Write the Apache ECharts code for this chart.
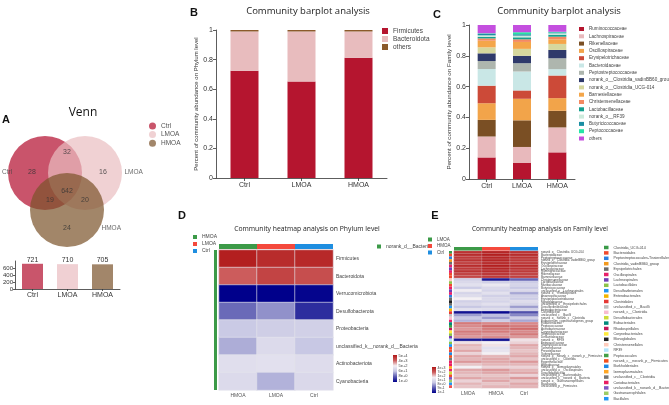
<!DOCTYPE html>
<html><head><meta charset="utf-8">
<script src="https://cdn.jsdelivr.net/npm/echarts@6.0.0/dist/echarts.min.js"></script>
<style>html,body{margin:0;padding:0;background:#fff;}#chart{width:669px;height:405px;}</style>
</head><body><div id="chart"></div>
<script>
// ================= DATA =================
const groups = ['Ctrl', 'LMOA', 'HMOA'];
const vennCounts = [28, 32, 16, 642, 19, 20, 24];
const otuTotals = [721, 710, 705];

const phyla = ['Firmicutes', 'Bacteroidota', 'others'];
const phylumFirmicutes = [0.724, 0.652, 0.813];
const phylumBacteroidota = [0.266, 0.338, 0.177];
const phylumOthers = [0.010, 0.010, 0.010];

const families = ['Ruminococcaceae', 'Lachnospiraceae', 'Rikenellaceae', 'Oscillospiraceae',
  'Erysipelotrichaceae', 'Bacteroidaceae', 'Peptostreptococcaceae',
  'norank_o__Clostridia_vadinBB60_group', 'norank_o__Clostridia_UCG-014', 'Barnesiellaceae',
  'Christensenellaceae', 'Lactobacillaceae', 'norank_o__RF39', 'Butyricicoccaceae',
  'Peptococcaceae', 'others'];
const familyCtrl = [0.140, 0.136, 0.108, 0.108, 0.114, 0.108, 0.052, 0.050, 0.039, 0.043, 0.015, 0.010, 0.010, 0.009, 0.004, 0.054];
const familyLMOA = [0.104, 0.104, 0.173, 0.140, 0.054, 0.123, 0.054, 0.048, 0.045, 0.045, 0.017, 0.013, 0.011, 0.009, 0.013, 0.047];
const familyHMOA = [0.173, 0.162, 0.108, 0.082, 0.147, 0.041, 0.071, 0.054, 0.039, 0.030, 0.017, 0.013, 0.009, 0.006, 0.004, 0.044];

const phylumHeatRows = ['Firmicutes', 'Bacteroidota', 'Verrucomicrobiota', 'Desulfobacterota',
  'Proteobacteria', 'unclassified_k__norank_d__Bacteria', 'Actinobacteriota', 'Cyanobacteria'];
const phylumHeatCols = ['HMOA', 'LMOA', 'Ctrl'];
const phylumHeatHMOA = [4.90, 4.00, 0.00, 1.15, 2.05, 1.75, 2.55, 2.45];
const phylumHeatLMOA = [4.70, 4.35, 0.00, 1.50, 2.15, 2.45, 2.60, 1.80];
const phylumHeatCtrl = [4.75, 4.20, 0.05, 0.50, 2.20, 2.00, 2.50, 2.40];
const phylumScaleLabels = ['5e+4', '4e+3', '5e+2', '6e+1', '8e+0', '1e+0'];

const familyHeatRows = ['norank_o__Clostridia_UCG-014', 'Bacteroidaceae', 'Peptostreptococcaceae',
  'norank_o__Clostridia_vadinBB60_group', 'Erysipelotrichaceae', 'Oscillospiraceae', 'Lachnospiraceae',
  'Ruminococcaceae', 'Rikenellaceae', 'Barnesiellaceae', 'Christensenellaceae', 'Lactobacillaceae',
  'Muribaculaceae', 'Butyricicoccaceae', 'unclassified_o__Lachnospirales', 'norank_o__Oscillospirales',
  'Anaerovoracaceae', 'Erysipelatoclostridiaceae', 'Monoglobaceae', 'unclassified_o__Erysipelotrichales',
  'Desulfovibrionaceae', 'Enterobacteriaceae', 'Clostridiaceae', 'unclassified_c__Bacilli',
  'norank_o__norank_c__Clostridia', 'Eubacterium_coprostanoligenes_group', 'Eubacteriaceae',
  'Peptococcaceae', 'Acetobacteraceae', 'Corynebacteriaceae', 'Streptococcaceae', 'Defluviitaleaceae',
  'norank_o__RF39', 'Enterococcaceae', 'Staphylococcaceae', 'Tannerellaceae', 'Prevotellaceae',
  'Sutterellaceae', 'norank_o__norank_c__norank_p__Firmicutes', 'unclassified_c__Clostridia',
  'Eggerthellaceae', 'Atopobiaceae', 'norank_o__Izemoplasmatales', 'unclassified_o__Oscillospirales',
  'Desulfobulbaceae', 'unclassified_o__Bacteroidales', 'unclassified_k__norank_d__Bacteria',
  'norank_o__Gastranaerophilales', 'Bacillaceae', 'unclassified_p__Firmicutes'];
const familyHeatCols = ['LMOA', 'HMOA', 'Ctrl'];
const familyHeatLMOA = [4.6, 4.7, 4.5, 4.6, 4.4, 4.7, 4.5, 4.6, 4.4, 4.3, 2.2, 2.4, 2.6, 2.1, 2.9, 2.3, 2.5, 3.0, 2.2, 2.4,
  2.0, 2.6, 0.2, 1.6, 2.0, 1.8, 3.8, 3.7, 3.6, 3.8, 3.7, 3.6, 0.3, 3.1, 3.4, 3.3, 3.5, 3.2, 3.5, 3.4,
  3.6, 3.3, 3.0, 3.5, 3.4, 3.3, 3.5, 3.2, 3.4, 3.3];
const familyHeatHMOA = [4.8, 4.9, 4.8, 4.8, 4.7, 4.9, 4.8, 4.7, 4.6, 4.5, 0.3, 2.2, 2.8, 2.4, 2.3, 2.6, 2.2, 2.4, 2.3, 2.6,
  2.2, 2.5, 0.1, 1.9, 1.6, 2.1, 3.7, 3.9, 3.8, 3.8, 3.6, 3.7, 0.2, 3.0, 3.1, 2.6, 2.7, 3.0, 3.4, 3.5,
  3.5, 3.4, 3.2, 3.6, 3.5, 3.3, 3.4, 3.5, 3.3, 3.4];
const familyHeatCtrl = [4.6, 4.7, 4.6, 4.5, 4.5, 4.7, 4.6, 4.5, 4.4, 4.4, 1.1, 2.1, 2.3, 2.0, 2.4, 1.7, 2.2, 2.1, 2.5, 2.3,
  1.6, 2.2, 0.9, 1.4, 2.2, 1.7, 3.7, 3.8, 3.9, 3.7, 3.8, 3.6, 3.1, 3.2, 3.5, 3.4, 3.3, 3.4, 3.5, 3.3,
  3.6, 3.4, 3.2, 3.4, 3.5, 3.2, 3.6, 3.3, 3.5, 3.4];
const orders = ['Clostridia_UCG-014', 'Bacteroidales', 'Peptostreptococcales-Tissierellales',
  'Clostridia_vadinBB60_group', 'Erysipelotrichales', 'Oscillospirales', 'Lachnospirales',
  'Lactobacillales', 'Desulfovibrionales', 'Enterobacterales', 'Clostridiales', 'unclassified_c__Bacilli',
  'norank_c__Clostridia', 'Desulfobacterales', 'Eubacteriales', 'Rhodospirillales', 'Corynebacteriales',
  'Monoglobales', 'Christensenellales', 'RF39', 'Peptococcales', 'norank_c__norank_p__Firmicutes',
  'Burkholderiales', 'Izemoplasmatales', 'unclassified_c__Clostridia', 'Coriobacteriales',
  'unclassified_k__norank_d__Bacteria', 'Gastranaerophilales', 'Bacillales', 'unclassified_p__Firmicutes'];
const familyRowOrder = [0, 1, 2, 3, 4, 5, 6, 5, 1, 1, 18, 7, 1, 5, 6, 5, 2, 4, 17, 4,
  8, 9, 10, 11, 12, 5, 14, 20, 15, 16, 7, 6, 19, 7, 28, 1, 1, 22, 21, 24,
  25, 25, 23, 5, 13, 1, 26, 27, 28, 29];
const familyScaleLabels = ['4e+3', '7e+2', '1e+2', '1e+1', '8e+0', '9e-1', '1e-1'];

// ================= STYLE / LAYOUT =================
const FONT = 'Liberation Sans, Arial, sans-serif';
const TITLE_FONT = 'Open Sans, sans-serif';
const AX = '#333';
const VENN = {
  diameter: 74,
  fill: {Ctrl: '#b20c2c', LMOA: '#eabdc0', HMOA: '#7a522a'},
  legendFill: {Ctrl: '#c9556b', LMOA: '#f0d1d3', HMOA: '#a2866a'},
  centers: {Ctrl: [-1, 0], LMOA: [1, 0], HMOA: [0.1, -1.85]},
  countPos: [[-1.65, 0.05], [0.1, 1.05], [1.9, 0.05], [0.1, -0.9], [-0.75, -1.35], [1.0, -1.35], [0.1, -2.75]],
  namePos: {Ctrl: [[-2.62, 0.05], 'left'], LMOA: [[2.95, 0.05], 'right'], HMOA: [[1.8, -2.75], 'right']}
};
const OTU_COLORS = ['#c9556b', '#f0d0d3', '#a2866a'];
const PHYLUM_COLORS = ['#b5152f', '#e8bcbe', '#8b5a2b'];
const FAMILY_COLORS = ['#b5152f', '#e8b9bc', '#7a4f24', '#f2a44a', '#cc4a38', '#c9e7e6', '#aeb6ae', '#2f3a6b',
  '#d6d79e', '#f4a64a', '#f48a62', '#15a08f', '#cdebdc', '#1b8ea3', '#25e5a6', '#c44fdf'];
const D_GROUP_COLORS = ['#3c9a48', '#f4493c', '#1f8ee0'];
const E_GROUP_COLORS = ['#3c9a48', '#f4493c', '#1f8ee0'];
const ORDER_PALETTE = ['#3a9a48', '#f04a2e', '#2b7fe0', '#f39a1e', '#6b6b6b', '#e8206a', '#6f3fb5', '#8cc24a',
  '#2196f3', '#f2b400', '#e53935', '#bdbdbd', '#f8bbd0', '#cddc39', '#00897b', '#c2185b', '#ffeb3b', '#212121',
  '#ffccbc', '#b3e5fc', '#43a047', '#f4511e', '#1e88e5', '#ffa726', '#757575', '#e91e63', '#7e57c2', '#9ccc65',
  '#2196f3', '#ef5350'];
const HEAT_COLORS = ['#00008b', '#5a5ab0', '#c8c8e4', '#f4f0f4', '#cc5c5c', '#b01818'];

// ================= BUILD =================
const chart = echarts.init(document.getElementById('chart'), null, {renderer: 'canvas', width: 669, height: 405});

const grids = [
  {left: 0, top: 133, width: 130, height: 110},     // 0 venn
  {left: 12, top: 261, width: 108, height: 28},     // 1 otu bars
  {left: 216, top: 30, width: 171, height: 148},    // 2 phylum bars
  {left: 469, top: 25, width: 106, height: 154},    // 3 family bars
  {left: 219, top: 250, width: 114, height: 140},   // 4 phylum heat
  {left: 219, top: 244, width: 114, height: 5},     // 5 phylum group bar
  {left: 214, top: 250, width: 3, height: 140},     // 6 phylum side bar
  {left: 454, top: 251, width: 84, height: 137},    // 7 family heat
  {left: 454, top: 247, width: 84, height: 3.5},    // 8 family group bar
  {left: 449, top: 251, width: 3, height: 137}      // 9 family side bar
];

const hidden = {show: false};
const axLine = {show: true, lineStyle: {color: AX, width: 0.8}};
const axTick = {show: true, length: 3, lineStyle: {color: AX, width: 0.8}};

const xAxes = [
  {gridIndex: 0, type: 'value', min: -3.25, max: 3.25, show: false},
  {gridIndex: 1, type: 'category', data: groups, axisLine: axLine, axisTick: Object.assign({alignWithLabel: true}, axTick, {length: 2}),
    axisLabel: {fontSize: 7, color: '#333', margin: 3, fontFamily: FONT}},
  {gridIndex: 2, type: 'category', data: groups, axisLine: axLine, axisTick: Object.assign({alignWithLabel: true}, axTick),
    axisLabel: {fontSize: 7, color: '#333', margin: 4, fontFamily: FONT}},
  {gridIndex: 3, type: 'category', data: groups, axisLine: axLine, axisTick: Object.assign({alignWithLabel: true}, axTick),
    axisLabel: {fontSize: 7, color: '#333', margin: 4, fontFamily: FONT}},
  {gridIndex: 4, type: 'category', data: phylumHeatCols, axisLine: hidden, axisTick: hidden, splitLine: hidden,
    axisLabel: {fontSize: 5, color: '#555', margin: 3, fontFamily: FONT}},
  {gridIndex: 5, type: 'category', data: phylumHeatCols, show: false},
  {gridIndex: 6, type: 'value', min: 0, max: 1, show: false},
  {gridIndex: 7, type: 'category', data: familyHeatCols, axisLine: hidden, axisTick: hidden, splitLine: hidden,
    axisLabel: {fontSize: 5, color: '#555', margin: 3, fontFamily: FONT}},
  {gridIndex: 8, type: 'category', data: familyHeatCols, show: false},
  {gridIndex: 9, type: 'value', min: 0, max: 1, show: false}
];
const yAxes = [
  {gridIndex: 0, type: 'value', min: -3.5, max: 2, show: false},
  {gridIndex: 1, type: 'value', min: 0, max: 800, interval: 200, axisLine: axLine, axisTick: Object.assign({}, axTick, {length: 2}),
    splitLine: hidden, axisLabel: {fontSize: 6, color: '#333', margin: 2, showMaxLabel: false, fontFamily: FONT}},
  {gridIndex: 2, type: 'value', min: 0, max: 1, interval: 0.2, axisLine: axLine, axisTick: axTick, splitLine: hidden,
    axisLabel: {fontSize: 7, color: '#333', margin: 3, fontFamily: FONT},
    name: 'Percent of community abundance on Phylum level', nameLocation: 'middle', nameRotate: 90, nameGap: 17,
    nameTextStyle: {fontSize: 6, color: '#333', fontFamily: FONT}},
  {gridIndex: 3, type: 'value', min: 0, max: 1, interval: 0.2, axisLine: axLine, axisTick: axTick, splitLine: hidden,
    axisLabel: {fontSize: 7, color: '#333', margin: 3, fontFamily: FONT},
    name: 'Percent of community abundance on Family level', nameLocation: 'middle', nameRotate: 90, nameGap: 15,
    nameTextStyle: {fontSize: 6.2, color: '#333', fontFamily: FONT}},
  {gridIndex: 4, type: 'category', data: phylumHeatRows, inverse: true, position: 'right', axisLine: hidden, axisTick: hidden,
    splitLine: hidden, axisLabel: {fontSize: 5, color: '#444', margin: 3, interval: 0, fontFamily: FONT}},
  {gridIndex: 5, type: 'value', min: 0, max: 1, show: false},
  {gridIndex: 6, type: 'category', data: ['norank_d__Bacteria'], show: false},
  {gridIndex: 7, type: 'category', data: familyHeatRows, inverse: true, position: 'right', axisLine: hidden, axisTick: hidden,
    splitLine: hidden, axisLabel: {fontSize: 3, color: '#444', margin: 3, interval: 0, fontFamily: FONT}},
  {gridIndex: 8, type: 'value', min: 0, max: 1, show: false},
  {gridIndex: 9, type: 'category', data: familyHeatRows, inverse: true, show: false}
];

const series = [];
// Venn circles
groups.forEach(g => {
  series.push({type: 'scatter', name: g, xAxisIndex: 0, yAxisIndex: 0, symbolSize: VENN.diameter, silent: true,
    data: [VENN.centers[g]], itemStyle: {color: VENN.fill[g], opacity: 0.7}});
});
// Venn region counts
series.push({type: 'scatter', xAxisIndex: 0, yAxisIndex: 0, symbolSize: 1, silent: true, z: 5,
  itemStyle: {color: 'rgba(0,0,0,0)'},
  data: vennCounts.map((v, i) => ({name: String(v), value: VENN.countPos[i]})),
  label: {show: true, position: 'inside', formatter: p => p.name, fontSize: 7, color: '#333', fontFamily: FONT}});
// Venn set names
series.push({type: 'scatter', xAxisIndex: 0, yAxisIndex: 0, symbolSize: 1, silent: true, z: 5,
  itemStyle: {color: 'rgba(0,0,0,0)'},
  data: groups.map(g => ({name: g, value: VENN.namePos[g][0], label: {position: VENN.namePos[g][1]}})),
  label: {show: true, distance: 0, formatter: p => p.name, fontSize: 6.5, color: '#444', fontFamily: FONT}});
// OTU totals
series.push({type: 'bar', xAxisIndex: 1, yAxisIndex: 1, barWidth: 21, silent: true,
  data: otuTotals.map((v, i) => ({value: v, itemStyle: {color: OTU_COLORS[i]}})),
  label: {show: true, position: 'top', distance: 0.5, fontSize: 7, color: '#333', fontFamily: FONT}});
// Phylum stacked bars
[phylumFirmicutes, phylumBacteroidota, phylumOthers].forEach((arr, i) => {
  series.push({type: 'bar', name: phyla[i], stack: 'phy', xAxisIndex: 2, yAxisIndex: 2, barWidth: 28,
    data: arr, itemStyle: {color: PHYLUM_COLORS[i]}});
});
// Family stacked bars
families.forEach((f, i) => {
  series.push({type: 'bar', name: f, stack: 'fam', xAxisIndex: 3, yAxisIndex: 3, barWidth: 18,
    data: [familyCtrl[i], familyLMOA[i], familyHMOA[i]], itemStyle: {color: FAMILY_COLORS[i]}});
});
// Phylum heatmap
const phyCols = [phylumHeatHMOA, phylumHeatLMOA, phylumHeatCtrl];
const phyData = [];
phylumHeatRows.forEach((r, ri) => phyCols.forEach((col, ci) => phyData.push([ci, ri, col[ri]])));
const phyHeatIndex = series.length;
series.push({type: 'heatmap', xAxisIndex: 4, yAxisIndex: 4, data: phyData,
  itemStyle: {borderColor: '#e4e4ec', borderWidth: 0.6}});
series.push({type: 'bar', xAxisIndex: 5, yAxisIndex: 5, barWidth: '100%', silent: true,
  data: phylumHeatCols.map((c, i) => ({value: 1, itemStyle: {color: D_GROUP_COLORS[i]}}))});
series.push({type: 'bar', name: 'norank_d__Bacteria', xAxisIndex: 6, yAxisIndex: 6, barWidth: '100%', silent: true,
  data: [1], itemStyle: {color: '#3c9a48'}});
// Family heatmap
const famCols = [familyHeatLMOA, familyHeatHMOA, familyHeatCtrl];
const famData = [];
familyHeatRows.forEach((r, ri) => famCols.forEach((col, ci) => famData.push([ci, ri, col[ri]])));
const famHeatIndex = series.length;
series.push({type: 'heatmap', xAxisIndex: 7, yAxisIndex: 7, data: famData,
  itemStyle: {borderColor: 'rgba(235,235,240,0.8)', borderWidth: 0.3}});
series.push({type: 'bar', xAxisIndex: 8, yAxisIndex: 8, barWidth: '100%', silent: true,
  data: familyHeatCols.map((c, i) => ({value: 1, itemStyle: {color: E_GROUP_COLORS[i]}}))});
orders.forEach((o, k) => {
  series.push({type: 'bar', name: o, stack: 'ord', xAxisIndex: 9, yAxisIndex: 9, barWidth: '100%', silent: true,
    data: familyRowOrder.map(idx => idx === k ? 1 : '-'), itemStyle: {color: ORDER_PALETTE[k]}});
});

// Legends
const lg = (o) => Object.assign({orient: 'vertical', padding: 0, selectedMode: false, icon: 'rect'}, o);
const legends = [
  lg({left: 149, top: 122.5, icon: 'circle', itemWidth: 7, itemHeight: 7, itemGap: 1.6,
    textStyle: {fontSize: 6.5, lineHeight: 7, color: '#555', fontFamily: FONT},
    data: groups.map(g => ({name: g, itemStyle: {color: VENN.legendFill[g], opacity: 1}}))}),
  lg({left: 382, top: 27.5, itemWidth: 6, itemHeight: 6, itemGap: 1,
    textStyle: {fontSize: 6.5, lineHeight: 6, color: '#444', fontFamily: FONT}, data: phyla}),
  lg({left: 579, top: 26.5, itemWidth: 5, itemHeight: 4, itemGap: 2.3,
    textStyle: {fontSize: 4.6, lineHeight: 4.5, color: '#444', fontFamily: FONT},
    data: families.map((f, i) => ({name: f, itemStyle: {color: FAMILY_COLORS[i]}}))}),
  lg({left: 193, top: 234.5, itemWidth: 4, itemHeight: 4, itemGap: 2,
    textStyle: {fontSize: 5, lineHeight: 5, color: '#444', fontFamily: FONT},
    data: phylumHeatCols.map((c, i) => ({name: c, itemStyle: {color: D_GROUP_COLORS[i], opacity: 1}}))}),
  lg({left: 377, top: 244, itemWidth: 4, itemHeight: 4,
    textStyle: {fontSize: 5, lineHeight: 5, color: '#444', fontFamily: FONT}, data: ['norank_d__Bacteria']}),
  lg({left: 428, top: 237, itemWidth: 4, itemHeight: 4, itemGap: 1.5,
    textStyle: {fontSize: 4.5, lineHeight: 4.5, color: '#444', fontFamily: FONT},
    data: familyHeatCols.map((c, i) => ({name: c, itemStyle: {color: E_GROUP_COLORS[i], opacity: 1}}))}),
  lg({left: 604, top: 245.5, itemWidth: 4.5, itemHeight: 3.5, itemGap: 1.4,
    textStyle: {fontSize: 3.6, lineHeight: 4, color: '#444', fontFamily: FONT}, data: orders})
];

// Graphics: panel letters, titles, colour scales
const txt = (text, x, y, font, align, fill) => ({type: 'text', x: x, y: y, silent: true,
  style: {text: text, font: font, fill: fill || '#111', align: align || 'center', textAlign: align || 'center',
    verticalAlign: 'middle', textVerticalAlign: 'middle'}});
const gradStops = HEAT_COLORS.slice().reverse().map((c, i, a) => ({offset: i / (a.length - 1), color: c}));
const scaleBar = (x, y, w, h, labels, fs) => {
  const els = [{type: 'rect', silent: true, shape: {x: x, y: y, width: w, height: h},
    style: {fill: new echarts.graphic.LinearGradient(0, 0, 0, 1, gradStops)}}];
  labels.forEach((l, i) => els.push(txt(l, x + w + 1.5, y + 1 + i * (h - 2) / (labels.length - 1),
    fs + 'px ' + FONT, 'left', '#444')));
  return els;
};
const graphics = [
  txt('A', 6, 120, 'bold 11px ' + FONT),
  txt('B', 194, 13, 'bold 11px ' + FONT),
  txt('C', 437, 15, 'bold 11px ' + FONT),
  txt('D', 182, 216, 'bold 11px ' + FONT),
  txt('E', 435, 216, 'bold 11px ' + FONT),
  txt('Venn', 83, 113, '12px ' + TITLE_FONT, 'center', '#111'),
  txt('Community barplot analysis', 308, 11, '9.5px ' + TITLE_FONT, 'center', '#222'),
  txt('Community barplot analysis', 559, 11, '9.5px ' + TITLE_FONT, 'center', '#222'),
  txt('Community heatmap analysis on Phylum level', 307, 229, '6.8px ' + TITLE_FONT, 'center', '#222'),
  txt('Community heatmap analysis on Family level', 540, 229, '6.5px ' + TITLE_FONT, 'center', '#222')
].concat(scaleBar(393, 355, 4, 27, phylumScaleLabels, 4))
 .concat(scaleBar(432, 367, 4, 26, familyScaleLabels, 3.5));

chart.setOption({
  backgroundColor: '#fff',
  animation: false,
  grid: grids,
  xAxis: xAxes,
  yAxis: yAxes,
  legend: legends,
  visualMap: [
    {type: 'continuous', show: false, seriesIndex: phyHeatIndex, min: 0, max: 5, dimension: 2, inRange: {color: HEAT_COLORS}},
    {type: 'continuous', show: false, seriesIndex: famHeatIndex, min: 0, max: 5, dimension: 2, inRange: {color: HEAT_COLORS}}
  ],
  graphic: {elements: graphics},
  series: series
});
</script></body></html>
